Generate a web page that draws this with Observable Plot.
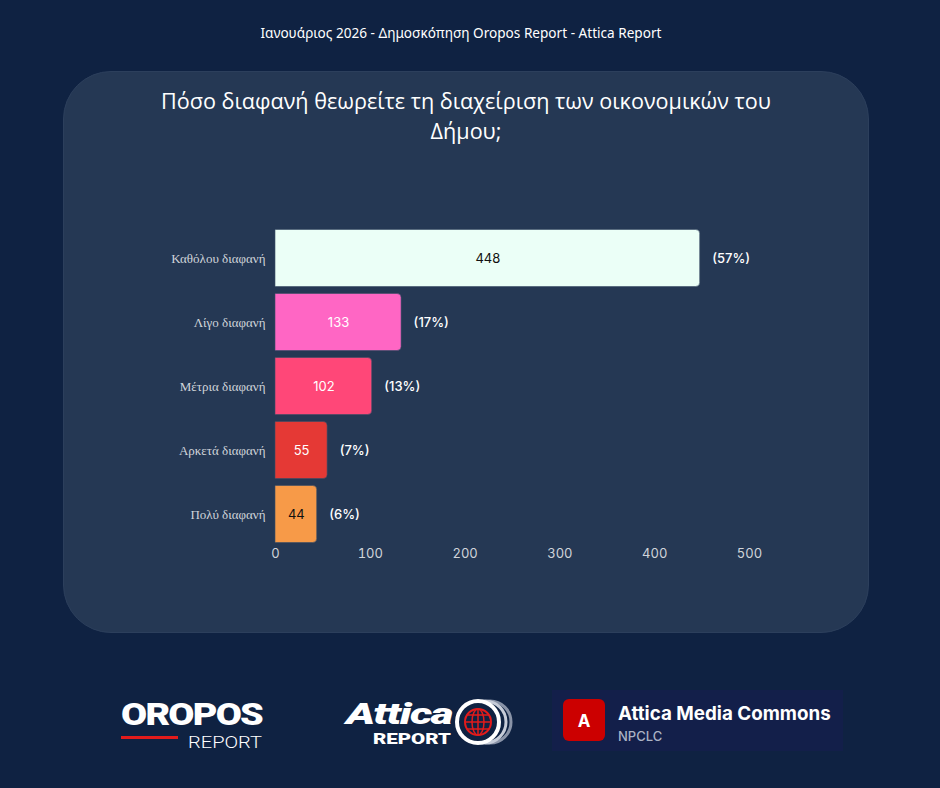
<!DOCTYPE html>
<html>
<head>
<meta charset="utf-8">
<script src="https://cdn.jsdelivr.net/npm/d3@7"></script>
<script src="https://cdn.jsdelivr.net/npm/@observablehq/plot@0.6"></script>
<style>
  html, body { margin: 0; padding: 0; background: #0f2242; }
  #page { position: relative; width: 940px; height: 788px; background: #0f2242; overflow: hidden; font-family: "Noto Sans", sans-serif; }
  #top { position: absolute; left: 0; width: 922px; top: 23px; text-align: center; color: #ffffff; font-size: 13.6px; font-family: "Noto Sans", sans-serif; }
  #panel { position: absolute; left: 63px; top: 71px; width: 804px; height: 560px; border-radius: 48px; background: #253854; border: 1px solid #2c3f5c; }
  #title { position: absolute; left: 63px; width: 806px; top: 86px; text-align: center; color: #ffffff; font-size: 21.6px; line-height: 30px; font-family: "Open Sans", sans-serif; }
  #chart { position: absolute; left: 100px; top: 200px; }
  #logos { position: absolute; left: 0; top: 680px; }
</style>
</head>
<body>
<div id="page">
  <div id="top">Ιανουάριος 2026 - Δημοσκόπηση Oropos Report - Attica Report</div>
  <div id="panel"></div>
  <div id="title">Πόσο διαφανή θεωρείτε τη διαχείριση των οικονομικών του<br>Δήμου;</div>
  <div id="chart"></div>
  <svg id="logos" width="940" height="100" viewBox="0 680 940 100">
    <!-- OROPOS REPORT -->
    <text x="121" y="725" fill="#ffffff" font-family="Roboto, sans-serif" font-weight="900" font-size="32" letter-spacing="-1.5" textLength="141" lengthAdjust="spacingAndGlyphs">OROPOS</text>
    <rect x="121" y="736" width="57" height="3" fill="#e21b1b"/>
    <text x="188" y="748" fill="#ffffff" font-family="Roboto, sans-serif" font-weight="300" font-size="16" textLength="74" lengthAdjust="spacingAndGlyphs">REPORT</text>
    <!-- Attica REPORT -->
    <text x="346" y="724" fill="#ffffff" font-family="Roboto, sans-serif" font-weight="900" font-style="italic" font-size="30" letter-spacing="-1" textLength="106" lengthAdjust="spacingAndGlyphs">Attica</text>
    <text x="373" y="744" fill="#ffffff" font-family="Roboto, sans-serif" font-weight="900" font-size="15" textLength="78" lengthAdjust="spacingAndGlyphs">REPORT</text>
    <circle cx="490" cy="722" r="21" fill="none" stroke="#8a94a8" stroke-width="3"/>
    <circle cx="485" cy="722" r="21" fill="none" stroke="#c6ccd8" stroke-width="3"/>
    <circle cx="478" cy="722" r="21" fill="#0f2242" stroke="#ffffff" stroke-width="4"/>
    <circle cx="478" cy="722" r="13" fill="none" stroke="#e21b1b" stroke-width="2"/>
    <ellipse cx="478" cy="722" rx="6" ry="13" fill="none" stroke="#e21b1b" stroke-width="1.5"/>
    <line x1="478" y1="709" x2="478" y2="735" stroke="#e21b1b" stroke-width="1.5"/>
    <line x1="465" y1="722" x2="491" y2="722" stroke="#e21b1b" stroke-width="1.5"/>
    <line x1="467" y1="715" x2="489" y2="715" stroke="#e21b1b" stroke-width="1.5"/>
    <line x1="467" y1="729" x2="489" y2="729" stroke="#e21b1b" stroke-width="1.5"/>
    <!-- Attica Media Commons -->
    <rect x="552" y="690" width="291" height="61" fill="#131f4a"/>
    <rect x="563" y="699" width="42" height="42" rx="6" fill="#cc0000"/>
    <text x="584" y="727" fill="#ffffff" text-anchor="middle" font-family="Inter, sans-serif" font-weight="700" font-size="17">A</text>
    <text x="618" y="720" fill="#ffffff" font-family="Inter, sans-serif" font-weight="700" font-size="18.8">Attica Media Commons</text>
    <text x="618" y="741" fill="#aab2c4" font-family="Inter, sans-serif" font-weight="500" font-size="13">NPCLC</text>
  </svg>
</div>
<script>
const categories = ["Καθόλου διαφανή", "Λίγο διαφανή", "Μέτρια διαφανή", "Αρκετά διαφανή", "Πολύ διαφανή"];
const values = [448, 133, 102, 55, 44];
const percents = ["(57%)", "(17%)", "(13%)", "(7%)", "(6%)"];
const barColors = ["#ebfff7", "#ff66c4", "#ff4778", "#e53935", "#f79a48"];
const labelColors = ["#111111", "#ffffff", "#ffffff", "#ffffff", "#111111"];
const xTicks = [0, 100, 200, 300, 400, 500];

const data = categories.map((c, i) => ({
  category: c, value: values[i], pct: percents[i], color: barColors[i], label: labelColors[i]
}));

const chart = Plot.plot({
  width: 700,
  height: 376,
  marginLeft: 175,
  marginRight: 51,
  marginTop: 26,
  marginBottom: 30,
  style: { background: "transparent", color: "#d6dbe4", fontFamily: "Inter, sans-serif" },
  x: { domain: [0, 500], ticks: xTicks, label: null },
  y: { domain: categories, label: null, padding: 0 },
  marks: [
    Plot.barX(data, {
      x: "value", y: "category", fill: "color", rx2: 4, insetTop: 3.5, insetBottom: 3.5,
      stroke: "#3b4d66", strokeWidth: 0.6
    }),
    Plot.text(data, {
      x: d => d.value / 2, y: "category", text: d => String(d.value), fill: "label",
      fontSize: 13, fontFamily: "Inter, sans-serif"
    }),
    Plot.text(data, {
      x: "value", y: "category", text: "pct", dx: 12, textAnchor: "start", fill: "#ffffff",
      fontSize: 13, fontWeight: 500, fontFamily: "Inter, sans-serif"
    }),
    Plot.axisY({ tickSize: 0, tickPadding: 10, fontSize: 13, fontFamily: "Liberation Serif, serif", fill: "#d0d4da", label: null }),
    Plot.axisX({ ticks: xTicks, tickSize: 0, tickPadding: 2, fontSize: 13, fontFamily: "Inter, sans-serif", fill: "#d0d4da", label: null })
  ]
});
document.getElementById("chart").appendChild(chart);
</script>
</body>
</html>
